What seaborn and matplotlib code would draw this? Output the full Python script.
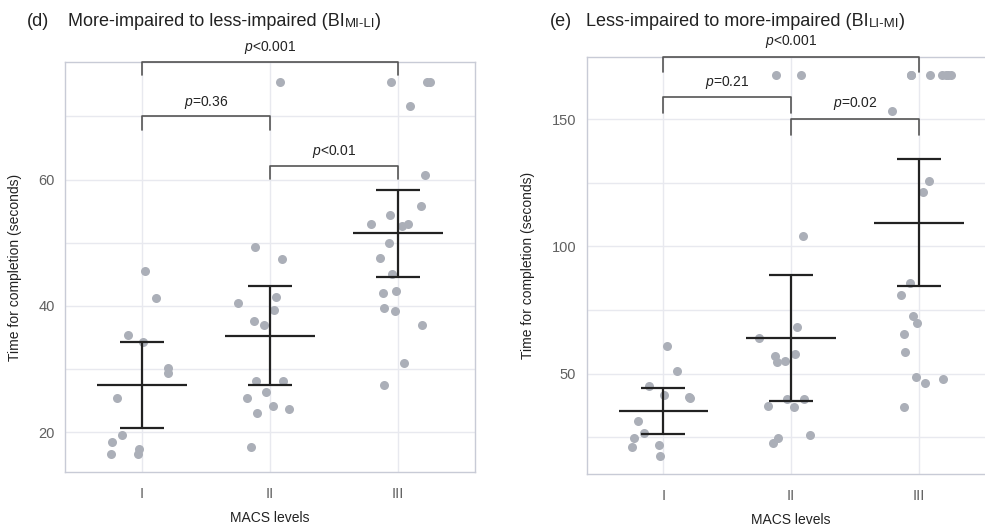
"""
Time for completion by MACS level, two bimanual transfer directions
"""
import numpy as np
import pandas as pd
import seaborn as sns
import matplotlib.pyplot as plt
from matplotlib.ticker import MultipleLocator

# ---- data ----
levels = ["I", "II", "III"]

# (d) more-impaired to less-impaired
d_level_I = [45.5, 41.2, 35.4, 34.3, 30.1, 29.4, 25.4, 19.5, 18.5, 16.5, 16.5, 17.3]
d_level_II = [75.5, 49.3, 47.4, 41.4, 40.5, 39.4, 37.6, 37.0, 28.1, 28.1, 26.4,
              25.4, 24.1, 23.7, 23.1, 17.6]
d_level_III = [75.5, 75.5, 75.5, 71.6, 60.7, 55.8, 54.4, 53.0, 52.9, 52.6, 50.0,
               47.6, 45.1, 42.3, 42.0, 39.6, 39.2, 37.0, 31.0, 27.5]
d_means = [27.5, 35.3, 51.5]
d_ci_low = [20.7, 27.5, 44.6]
d_ci_high = [34.2, 43.1, 58.4]
d_pvalues = ["<0.001", "=0.36", "<0.01"]

# (e) less-impaired to more-impaired
e_level_I = [60.8, 51.0, 45.2, 41.8, 40.9, 40.5, 31.6, 26.8, 24.9, 22.1, 21.2, 17.6]
e_level_II = [167.2, 167.2, 104.2, 68.3, 64.0, 57.6, 57.0, 55.1, 54.6, 40.1, 40.1,
              37.4, 36.9, 26.0, 24.9, 22.9]
e_level_III = [167.2, 167.2, 167.2, 167.2, 167.2, 167.2, 167.2, 153.3, 125.8, 121.2,
               85.7, 80.8, 72.8, 69.8, 65.7, 58.4, 48.7, 47.8, 46.2, 36.8]
e_means = [35.4, 63.9, 109.2]
e_ci_low = [26.4, 39.3, 84.4]
e_ci_high = [44.3, 88.8, 134.2]
e_pvalues = ["<0.001", "=0.21", "=0.02"]

# ---- style ----
POINT_COLOR = "#abafb8"
SPINE_COLOR = "#c8cbd6"
GRID_COLOR = "#e8e9ef"
TICK_LABEL_COLOR = "#606060"
TEXT_COLOR = "#222222"

sns.set_style("white")
plt.rcParams["font.family"] = ["Liberation Sans", "DejaVu Sans"]
plt.rcParams["mathtext.fontset"] = "custom"
plt.rcParams["mathtext.rm"] = "Liberation Sans"
plt.rcParams["mathtext.it"] = "Liberation Sans:italic"


def to_frame(groups):
    return pd.concat(
        [pd.DataFrame({"level": lvl, "time": vals}) for lvl, vals in zip(levels, groups)],
        ignore_index=True,
    )


def draw_panel(ax, df, means, ci_low, ci_high, pvalues, ylim, major, minor,
               bracket_y, drop, text_gap, seed):
    np.random.seed(seed)
    sns.stripplot(data=df, x="level", y="time", order=levels, ax=ax,
                  color=POINT_COLOR, size=6.5, jitter=0.26, linewidth=0, zorder=2)

    x = np.arange(len(levels))
    means = np.array(means)
    yerr = [means - np.array(ci_low), np.array(ci_high) - means]
    ax.errorbar(x, means, yerr=yerr, fmt="none", ecolor=TEXT_COLOR, elinewidth=1.6,
                capsize=16, capthick=1.6, zorder=3)
    ax.hlines(means, x - 0.35, x + 0.35, color=TEXT_COLOR, linewidth=1.6, zorder=3)

    ax.set_xlim(-0.6, 2.6)
    ax.set_ylim(*ylim)
    ax.yaxis.set_major_locator(MultipleLocator(major))
    ax.yaxis.set_minor_locator(MultipleLocator(minor))
    ax.grid(True, which="both", axis="y", color=GRID_COLOR, linewidth=1.0, zorder=0)
    ax.grid(True, which="major", axis="x", color=GRID_COLOR, linewidth=1.0, zorder=0)
    ax.set_axisbelow(True)
    ax.tick_params(axis="both", which="major", length=4, width=1, color=SPINE_COLOR,
                   labelcolor=TICK_LABEL_COLOR, labelsize=10.5)
    ax.tick_params(axis="x", pad=7)
    ax.tick_params(axis="y", which="minor", length=0)
    for spine in ax.spines.values():
        spine.set_visible(True)
        spine.set_color(SPINE_COLOR)
        spine.set_linewidth(1.0)

    ax.set_xlabel("MACS levels", fontsize=10, color=TEXT_COLOR, labelpad=7)
    ax.set_ylabel("Time for completion (seconds)", fontsize=10, color=TEXT_COLOR,
                  labelpad=12)

    # significance brackets: I-III, I-II, II-III
    pairs = [(0, 2), (0, 1), (1, 2)]
    for (a, b), yb, p in zip(pairs, bracket_y, pvalues):
        ax.plot([a, a, b, b], [yb - drop, yb, yb, yb - drop], color="#555555",
                linewidth=1.2, clip_on=False, zorder=4)
        ax.text((a + b) / 2, yb + text_gap, f"$p${p}", ha="center", va="bottom",
                fontsize=10, color=TEXT_COLOR, clip_on=False)


fig = plt.figure(figsize=(9.85, 5.26), dpi=100)
ax_d = fig.add_axes([0.066, 0.1027, 0.4162, 0.7794])
ax_e = fig.add_axes([0.5956, 0.0989, 0.4151, 0.7933])

draw_panel(ax_d, to_frame([d_level_I, d_level_II, d_level_III]), d_means, d_ci_low,
           d_ci_high, d_pvalues, (13.7, 78.6), 20, 10, [78.6, 70.0, 62.2], 2.1, 0.9, 3)
draw_panel(ax_e, to_frame([e_level_I, e_level_II, e_level_III]), e_means, e_ci_low,
           e_ci_high, e_pvalues, (10.6, 174.5), 50, 25, [174.5, 158.6, 150.0], 6.2, 2.6, 3)


def panel_title(ax, letter, x_letter, x_text, main, sub):
    y = 1 - 26 / 526
    fig.text(x_letter / 985, y, letter, fontsize=13, color=TEXT_COLOR, va="baseline")
    t1 = fig.text(x_text / 985, y, main, fontsize=13, color=TEXT_COLOR, va="baseline")
    t2 = ax.annotate(sub, xy=(1, 0), xycoords=t1, va="bottom", ha="left",
                     fontsize=9.5, color=TEXT_COLOR, annotation_clip=False)
    ax.annotate(")", xy=(1, 0), xycoords=t2, va="bottom", ha="left",
                fontsize=13, color=TEXT_COLOR, annotation_clip=False)


panel_title(ax_d, "(d)", 27, 68, "More-impaired to less-impaired (BI", "MI-LI")
panel_title(ax_e, "(e)", 550, 586, "Less-impaired to more-impaired (BI", "LI-MI")

plt.savefig("out.png", dpi=100)
